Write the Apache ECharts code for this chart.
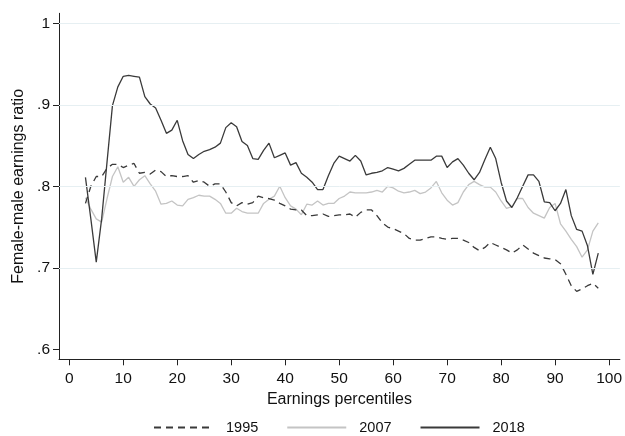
<!DOCTYPE html>
<html>
<head>
<meta charset="utf-8">
<script src="https://cdn.jsdelivr.net/npm/echarts@6/dist/echarts.min.js"></script>
<style>
html,body{margin:0;padding:0;background:#fff;}
#c{width:625px;height:436px;}
</style>
</head>
<body>
<div id="c"></div>
<script>
var percentiles = [3,4,5,6,7,8,9,10,11,12,13,14,15,16,17,18,19,20,21,22,23,24,25,26,27,28,29,30,31,32,33,34,35,36,37,38,39,40,41,42,43,44,45,46,47,48,49,50,51,52,53,54,55,56,57,58,59,60,61,62,63,64,65,66,67,68,69,70,71,72,73,74,75,76,77,78,79,80,81,82,83,84,85,86,87,88,89,90,91,92,93,94,95,96,97,98];

var ratio1995 = [0.779,0.800,0.812,0.812,0.822,0.827,0.827,0.823,0.826,0.828,0.816,0.817,0.815,0.820,0.818,0.812,0.813,0.812,0.812,0.813,0.805,0.807,0.805,0.800,0.803,0.803,0.793,0.780,0.776,0.780,0.778,0.780,0.788,0.786,0.785,0.783,0.779,0.776,0.772,0.771,0.771,0.764,0.764,0.765,0.766,0.763,0.764,0.765,0.765,0.766,0.762,0.768,0.771,0.771,0.764,0.755,0.750,0.748,0.745,0.742,0.736,0.734,0.734,0.736,0.738,0.738,0.736,0.735,0.736,0.736,0.734,0.731,0.725,0.721,0.725,0.731,0.728,0.725,0.722,0.718,0.722,0.728,0.723,0.718,0.715,0.712,0.711,0.710,0.705,0.692,0.678,0.671,0.674,0.678,0.681,0.675];

var ratio2007 = [0.786,0.772,0.760,0.756,0.785,0.812,0.824,0.805,0.811,0.800,0.808,0.813,0.803,0.794,0.778,0.779,0.782,0.777,0.776,0.784,0.786,0.789,0.788,0.788,0.784,0.779,0.767,0.767,0.773,0.769,0.767,0.767,0.767,0.779,0.784,0.788,0.800,0.786,0.776,0.772,0.765,0.778,0.777,0.782,0.777,0.779,0.779,0.785,0.788,0.793,0.792,0.792,0.792,0.793,0.795,0.793,0.800,0.798,0.794,0.792,0.793,0.795,0.791,0.793,0.798,0.806,0.792,0.783,0.777,0.780,0.793,0.802,0.806,0.802,0.799,0.799,0.793,0.782,0.773,0.775,0.785,0.785,0.774,0.767,0.764,0.761,0.774,0.779,0.754,0.745,0.735,0.726,0.713,0.722,0.745,0.755];

var ratio2018 = [0.811,0.760,0.707,0.760,0.830,0.899,0.922,0.935,0.936,0.935,0.934,0.910,0.901,0.896,0.881,0.865,0.869,0.881,0.856,0.839,0.834,0.839,0.843,0.845,0.848,0.853,0.872,0.878,0.873,0.855,0.850,0.834,0.833,0.844,0.853,0.835,0.838,0.841,0.826,0.829,0.816,0.811,0.805,0.796,0.796,0.813,0.828,0.837,0.834,0.831,0.838,0.831,0.814,0.816,0.817,0.819,0.823,0.821,0.819,0.822,0.827,0.832,0.832,0.832,0.832,0.837,0.837,0.823,0.830,0.834,0.826,0.816,0.808,0.817,0.833,0.848,0.834,0.805,0.782,0.774,0.786,0.800,0.814,0.814,0.806,0.781,0.780,0.770,0.779,0.796,0.764,0.747,0.745,0.727,0.692,0.718];

var seriesNames = ['1995','2007','2018'];
var xTicks = [0,10,20,30,40,50,60,70,80,90,100];
var yTicks = [0.6,0.7,0.8,0.9,1.0];
var yGridLines = [0.7,0.8,0.9,1.0];

function pairs(vals){ return percentiles.map(function(p,i){ return [p, vals[i]]; }); }
function yFmt(v){ if (Math.abs(v-1)<1e-9) return '1'; return '.' + Math.round(v*10); }

var FONT = 'Liberation Sans, Arial, sans-serif';
var chart = echarts.init(document.getElementById('c'), null, {renderer:'canvas'});
chart.setOption({
  animation:false,
  backgroundColor:'#ffffff',
  grid:{left:59, right:5, top:13.3, bottom:76.7, containLabel:false},
  legend:{
    data:seriesNames,
    left:148, top:415, padding:5,
    itemWidth:59, itemHeight:14, itemGap:28,
    itemStyle:{opacity:0},
    textStyle:{fontFamily:FONT, fontSize:14.5, color:'#111', padding:[0,0,0,8]}
  },
  xAxis:{
    type:'value', min:-1.9, max:102,
    name:'Earnings percentiles', nameLocation:'middle', nameGap:26,
    nameTextStyle:{fontFamily:FONT, fontSize:16, color:'#111'},
    axisLine:{show:true, onZero:false, lineStyle:{color:'#222', width:1}},
    axisTick:{show:true, customValues:xTicks, length:6, lineStyle:{color:'#222'}},
    axisLabel:{show:true, customValues:xTicks, margin:11, fontFamily:FONT, fontSize:15.5, color:'#111'},
    splitLine:{show:false}
  },
  yAxis:{
    type:'value', min:0.5877, max:1.0123,
    name:'Female-male earnings ratio', nameLocation:'middle', nameGap:29,
    nameTextStyle:{fontFamily:FONT, fontSize:16, color:'#111'},
    axisLine:{show:true, onZero:false, lineStyle:{color:'#222', width:1}},
    axisTick:{show:true, customValues:yTicks, length:6, lineStyle:{color:'#222'}},
    axisLabel:{show:true, customValues:yTicks, margin:9, fontFamily:FONT, fontSize:15.5, color:'#111', formatter:yFmt},
    splitLine:{show:false}
  },
  series:[
    {name:'grid', type:'line', data:[], silent:true, z:1,
     markLine:{silent:true, symbol:['none','none'], label:{show:false},
       lineStyle:{type:'solid', color:'#e6eff2', width:1},
       data:yGridLines.map(function(v){ return {yAxis:v}; })}},
    {name:seriesNames[0], type:'line', data:pairs(ratio1995), symbol:'none', z:3,
     lineStyle:{color:'#3a3a3a', width:1.3, type:[7,5]}, itemStyle:{color:'#3a3a3a'}},
    {name:seriesNames[1], type:'line', data:pairs(ratio2007), symbol:'none', z:2,
     lineStyle:{color:'#c4c4c4', width:1.3}, itemStyle:{color:'#c4c4c4'}},
    {name:seriesNames[2], type:'line', data:pairs(ratio2018), symbol:'none', z:4,
     lineStyle:{color:'#3a3a3a', width:1.3}, itemStyle:{color:'#3a3a3a'}}
  ]
});
</script>
</body>
</html>
